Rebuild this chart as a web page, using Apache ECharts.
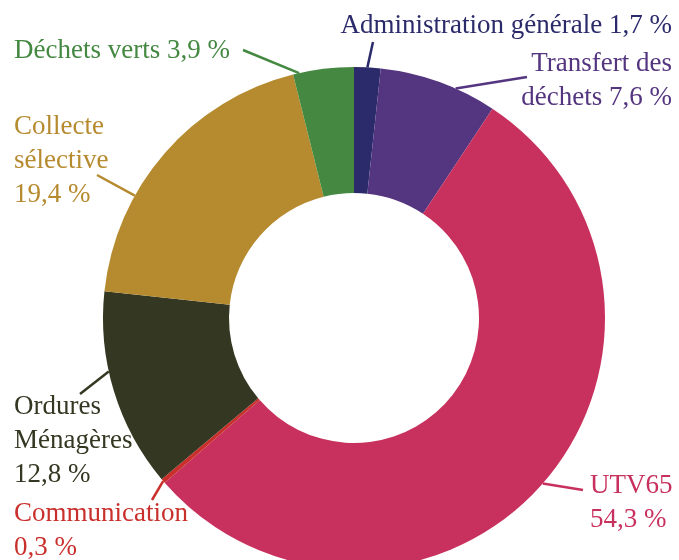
<!DOCTYPE html>
<html>
<head>
<meta charset="utf-8">
<script src="https://cdn.jsdelivr.net/npm/echarts@6/dist/echarts.min.js"></script>
<style>
  html, body { margin: 0; padding: 0; background: #fff; }
  #chart { width: 679px; height: 560px; }
</style>
</head>
<body>
<div id="chart"></div>
<script>
const categories = ['Administration générale', 'Transfert des\ndéchets', 'UTV65', 'Communication', 'Ordures\nMénagères', 'Collecte\nsélective', 'Déchets verts']
const shares = [1.7, 7.6, 54.3, 0.3, 12.8, 19.4, 3.9]
const colors = ['#2b2a6a', '#54357f', '#c8315e', '#c9302c', '#343822', '#b68a2f', '#448841']

const CX = 354, CY = 318, R_IN = 125, R_OUT = 251

// label placement: text anchor (x, y, align), where the leader line touches the text (lx, ly),
// and how far along its slice (0..1) the leader line starts
const labelPlaces = [
  { x: 672, y: 26, align: 'right', sep: ' ', lx: 373, ly: 42, at: 0.5 },
  { x: 672, y: 81, align: 'right', sep: ' ', lx: 527, ly: 77, at: 0.65 },
  { x: 590, y: 503, align: 'left', sep: '\n', lx: 583, ly: 490, at: 0.5 },
  { x: 14, y: 531, align: 'left', sep: '\n', lx: 152, ly: 500, at: 0.5 },
  { x: 14, y: 441, align: 'left', sep: '\n', lx: 80, ly: 394, at: 0.6 },
  { x: 14, y: 161, align: 'left', sep: '\n', lx: 97, ly: 175, at: 0.33 },
  { x: 14, y: 51, align: 'left', sep: ' ', lx: 243, ly: 50, at: 0.1 },
]

function fmtPct(v) {
  return v.toFixed(1).replace('.', ',') + '\u00a0%'
}

const total = shares.reduce((a, b) => a + b, 0)
function edgePoint(i) {
  let before = 0
  for (let k = 0; k < i; k++) before += shares[k]
  const frac = (before + shares[i] * labelPlaces[i].at) / total
  const ang = frac * Math.PI * 2
  return [CX + R_OUT * Math.sin(ang), CY - R_OUT * Math.cos(ang)]
}

const chart = echarts.init(document.getElementById('chart'))

chart.setOption({
  backgroundColor: '#fff',
  animation: false,
  series: [{
    type: 'pie',
    center: [CX, CY],
    radius: [R_IN, R_OUT],
    startAngle: 90,
    clockwise: true,
    avoidLabelOverlap: false,
    emphasis: { disabled: true },
    itemStyle: { borderWidth: 0 },
    data: categories.map((name, i) => ({
      name,
      value: shares[i],
      itemStyle: { color: colors[i] },
      label: { color: colors[i] },
    })),
    label: {
      show: true,
      position: 'outside',
      fontFamily: 'Liberation Serif, serif',
      fontSize: 27,
      lineHeight: 34,
      formatter: (p) => p.name + labelPlaces[p.dataIndex].sep + fmtPct(p.value),
    },
    labelLine: { show: true, length: 10, length2: 0, lineStyle: { width: 2.5 } },
    labelLayout: (p) => {
      const pl = labelPlaces[p.dataIndex]
      return {
        x: pl.x, y: pl.y, align: pl.align, verticalAlign: 'middle',
        labelLinePoints: [edgePoint(p.dataIndex), [pl.lx, pl.ly], [pl.lx, pl.ly]],
      }
    },
  }],
})
</script>
</body>
</html>
